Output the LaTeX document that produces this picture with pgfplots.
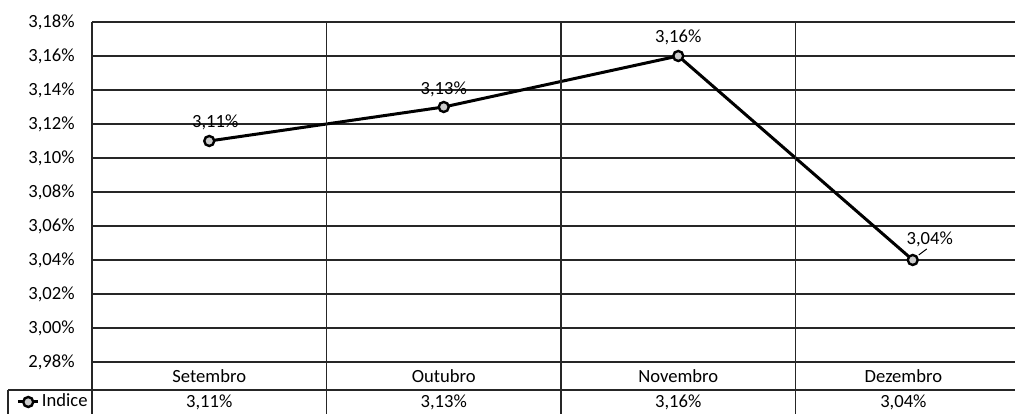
\documentclass[border=0pt]{standalone}
\usepackage{pgfplots}
\pgfplotsset{compat=1.18}
\usepackage{pgfplotstable}
\usepackage{fontspec}
\setmainfont{Carlito}

% monthly index, with label offsets (pt)
\pgfplotstableread{
x y label dx dy
0 3.11 {3,11\%} 3 9.5
1 3.13 {3,13\%} 0 9
2 3.16 {3,16\%} 0 9.5
3 3.04 {3,04\%} 8.5 10.5
}\indice

\begin{document}
\begin{tikzpicture}[font=\fontsize{9.3}{11}\selectfont]
\begin{axis}[
    name=ax,
    scale only axis,
    width=461.5pt, height=170pt,
    xmin=-0.5, xmax=3.436,
    ymin=2.98, ymax=3.18,
    ytick={2.98,3.00,3.02,3.04,3.06,3.08,3.10,3.12,3.14,3.16,3.18},
    xtick=\empty,
    ymajorgrids,
    grid style={black!85, line width=0.7pt},
    axis line style={draw=none},
    major tick length=0pt,
    /pgf/number format/assume math mode=true,
    yticklabel={\pgfmathprintnumber[fixed,fixed zerofill,precision=2,use comma]{\tick}\%},
    yticklabel style={inner xsep=0pt, xshift=-8.5pt},
    clip=false,
    legend style={at={(axis description cs:0,0)}, anchor=east, xshift=-1pt, yshift=-20pt,
        draw=none, fill=none, inner sep=0pt, nodes={inner sep=1pt}},
    legend image code/.code={\draw[mark repeat=2,mark phase=2] plot coordinates {(0cm,0cm)(0.18cm,0cm)(0.36cm,0cm)};},
]
\addplot[black, line width=1.5pt, mark=*, mark size=2.5pt,
    mark options={fill=gray!40, draw=black, line width=1.2pt},
    nodes near coords, point meta=explicit symbolic,
    visualization depends on={\thisrow{dx}\as\dx},
    visualization depends on={\thisrow{dy}\as\dy},
    every node near coord/.append style={anchor=center, xshift=\dx pt, yshift=\dy pt, text=black}]
    table[x=x, y=y, meta=label]{\indice};
\addlegendentry{Indice}

% leader line of the last label
\draw[black, line width=0.5pt] ([xshift=3pt,yshift=2.5pt]axis cs:3,3.04) -- ([xshift=7pt,yshift=5.5pt]axis cs:3,3.04);

% data table lines
\draw[black!85, line width=0.7pt] (rel axis cs:0,1) -- ([yshift=-26pt]rel axis cs:0,0);
\draw[black!85, line width=0.7pt] ([xshift=-42pt,yshift=-14pt]rel axis cs:0,0) -- ([yshift=-14pt]rel axis cs:1,0);
\draw[black!85, line width=0.7pt] ([xshift=-42pt,yshift=-14pt]rel axis cs:0,0) -- ([xshift=-42pt,yshift=-26pt]rel axis cs:0,0);
\pgfplotsinvokeforeach{0.5,1.5,2.5}{
  \draw[black!85, line width=0.7pt] (axis cs:#1,3.18) -- ([yshift=-26pt]axis cs:#1,2.98);
}

% data table text
\node at ([yshift=-7pt]axis cs:0,2.98) {Setembro};
\node at ([yshift=-7pt]axis cs:1,2.98) {Outubro};
\node at ([yshift=-7pt]axis cs:2,2.98) {Novembro};
\node at ([yshift=-7pt]axis cs:2.96,2.98) {Dezembro};
\node at ([yshift=-20pt]axis cs:0,2.98) {3,11\%};
\node at ([yshift=-20pt]axis cs:1,2.98) {3,13\%};
\node at ([yshift=-20pt]axis cs:2,2.98) {3,16\%};
\node at ([yshift=-20pt]axis cs:2.96,2.98) {3,04\%};
\end{axis}
\pgfresetboundingbox
\path[use as bounding box] ([xshift=-46pt,yshift=-26pt]ax.south west) rectangle ([yshift=11pt]ax.north east);
\end{tikzpicture}
\end{document}
